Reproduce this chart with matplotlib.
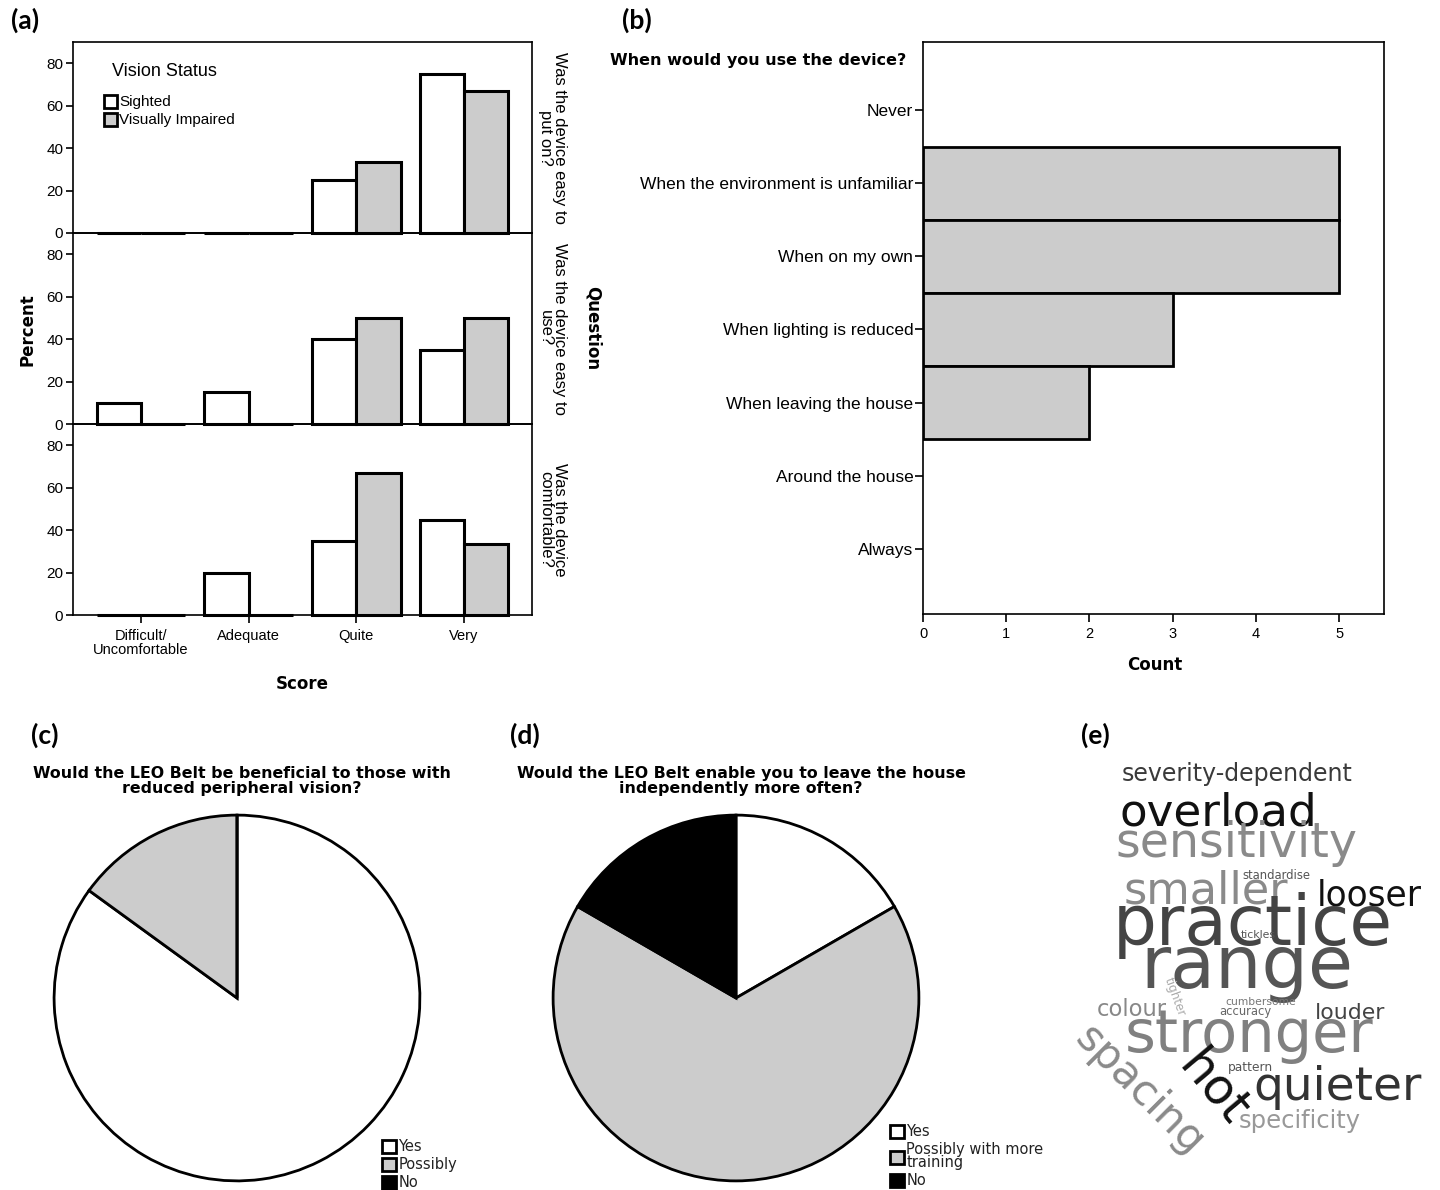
import matplotlib
matplotlib.use("Agg")
import matplotlib.pyplot as plt
from matplotlib.patches import Patch

W, H = 1440, 1190
plt.rcParams['font.family'] = ['Liberation Sans', 'DejaVu Sans']

# ---- datos ----
# (a) porcentaje por pregunta y grupo
score_cats = ['Difficult/\nUncomfortable', 'Adequate', 'Quite', 'Very']
questions = ['Was the device easy to\nput on?', 'Was the device easy to\nuse?', 'Was the device\ncomfortable?']
sighted = [[0, 0, 25, 75],
           [10, 15, 40, 35],
           [0, 20, 35, 45]]
impaired = [[0, 0, 33.3, 66.7],
            [0, 0, 50, 50],
            [0, 0, 66.7, 33.3]]

# (b) cuando usarias el dispositivo
use_cats = ['Never', 'When the environment is unfamiliar', 'When on my own',
            'When lighting is reduced', 'When leaving the house',
            'Around the house', 'Always']
use_counts = [0, 5, 5, 3, 2, 0, 0]

# (c) y (d) tortas
pie_c_labels = ['Yes', 'Possibly', 'No']
pie_c_vals = [85, 15, 0]
pie_d_labels = ['Yes', 'Possibly with more\ntraining', 'No']
pie_d_vals = [1, 4, 1]
pie_colors = ['white', '#cccccc', 'black']

# (e) nube de palabras
words = ['severity-dependent', 'overload', 'sensitivity', 'standardise', 'smaller',
         'looser', 'practice', 'tickles', 'range', 'tighter', 'colour', 'cumbersome',
         'accuracy', 'louder', 'stronger', 'spacing', 'hot', 'pattern', 'quieter',
         'specificity']
# layout de la nube: (x centro, y base/centro, ancho px, gris, rotacion)
word_layout = [(1237, 781, 231, '#3a3a3a', 0), (1218, 825, 197, '#111111', 0),
               (1236, 857, 242, '#8a8a8a', 0), (1276, 879, 68, '#555555', 0),
               (1206, 903, 165, '#8a8a8a', 0), (1369, 906, 105, '#111111', 0),
               (1253, 945, 280, '#444444', 0), (1258, 938, 35, '#555555', 0),
               (1247, 988, 213, '#555555', 0), (1175, 997, 40, '#aaaaaa', -70),
               (1132, 1016, 70, '#888888', 0), (1261, 1005, 70, '#777777', 0),
               (1245, 1015, 52, '#666666', 0), (1350, 1019, 70, '#444444', 0),
               (1249, 1052, 248, '#808080', 0), (1140, 1090, 165, '#8a8a8a', -45),
               (1213, 1088, 80, '#111111', -50), (1250, 1071, 45, '#555555', 0),
               (1338, 1100, 168, '#333333', 0), (1300, 1128, 122, '#999999', 0)]


def box(x0, y0, x1, y1):
    return [x0 / W, 1 - y1 / H, (x1 - x0) / W, (y1 - y0) / H]


fig = plt.figure(figsize=(W / 100, H / 100), dpi=100)
bold = dict(fontweight='bold', family='DejaVu Sans')

# ---- (a) ----
tops = [42, 233, 424]
bw = 0.41
for i in range(3):
    ax = fig.add_axes(box(73, tops[i], 532, tops[i] + 191))
    ax.patch.set_visible(False)
    xs = range(len(score_cats))
    ax.bar([x - bw / 2 for x in xs], sighted[i], bw, color='white', edgecolor='black',
           lw=2.2, clip_on=False, zorder=3)
    ax.bar([x + bw / 2 for x in xs], impaired[i], bw, color='#cccccc', edgecolor='black',
           lw=2.2, clip_on=False, zorder=3)
    ax.set_xlim(-0.63, 3.63)
    ax.set_ylim(0, 90)
    ax.set_yticks([0, 20, 40, 60, 80])
    ax.tick_params(axis='y', direction='out', length=5, width=1.2, labelsize=11, pad=2)
    for s in ax.spines.values():
        s.set_linewidth(1.2)
    if i < 2:
        ax.set_xticks([])
    else:
        ax.set_xticks(list(xs))
        ax.set_xticklabels(score_cats, fontsize=10.5, linespacing=1.0)
        ax.tick_params(axis='x', direction='out', length=6, width=1.2, pad=4)
    ax.text(1.013, 0.5, questions[i], transform=ax.transAxes, rotation=-90,
            ha='left', va='center', multialignment='center', fontsize=12, linespacing=0.9)
    if i == 0:
        handles = [Patch(facecolor='white', edgecolor='black', lw=2),
                   Patch(facecolor='#cccccc', edgecolor='black', lw=2)]
        ax.legend(handles, ['Sighted', 'Visually Impaired'],
                  loc='upper left', bbox_to_anchor=(96 / W, 1 - 87 / H),
                  bbox_transform=fig.transFigure, frameon=False, borderpad=0,
                  fontsize=11, handlelength=0.85, handleheight=0.95,
                  handletextpad=0.15, labelspacing=0.2)

fig.text(112 / W, 1 - 72 / H, 'Vision Status', ha='left', va='center', fontsize=13)
fig.text(28 / W, 1 - 330 / H, 'Percent', rotation=90, ha='center', va='center', fontsize=12, **bold)
fig.text(593 / W, 1 - 328 / H, 'Question', rotation=-90, ha='center', va='center', fontsize=12, **bold)
fig.text(302 / W, 1 - 684 / H, 'Score', ha='center', va='center', fontsize=12, **bold)

# ---- (b) ----
axb = fig.add_axes(box(923, 42, 1384, 614))
axb.barh(range(len(use_cats)), use_counts, height=1.0, color='#cccccc', edgecolor='black',
         linewidth=[2 if c > 0 else 0 for c in use_counts])
axb.set_ylim(6.89, -0.93)
axb.set_xlim(0, 5.54)
axb.set_yticks(range(len(use_cats)))
axb.set_yticklabels(use_cats, fontsize=12.5)
axb.set_xticks(range(6))
axb.tick_params(axis='y', direction='out', length=6, width=1.2, pad=1)
axb.tick_params(axis='x', direction='out', length=6, width=1.2, labelsize=10.5)
for s in axb.spines.values():
    s.set_linewidth(1.2)
fig.text(610 / W, 1 - 60 / H, 'When would you use the device?', ha='left', va='center', fontsize=11.5, **bold)
fig.text(1155 / W, 1 - 665 / H, 'Count', ha='center', va='center', fontsize=12, **bold)

# ---- (c) y (d) ----
r = 183
for cx, vals, labs, title, lx, ly in [
        (237, pie_c_vals, pie_c_labels,
         'Would the LEO Belt be beneficial to those with\nreduced peripheral vision?', 375, 1132),
        (736, pie_d_vals, pie_d_labels,
         'Would the LEO Belt enable you to leave the house\nindependently more often?', 883, 1117)]:
    axp = fig.add_axes(box(cx - r - 3, 998 - r - 3, cx + r + 3, 998 + r + 3))
    wedges, _ = axp.pie(vals, colors=pie_colors, startangle=90, counterclock=False,
                        wedgeprops=dict(edgecolor='black', linewidth=2))
    axp.set_xlim(-1.017, 1.017)
    axp.set_ylim(-1.017, 1.017)
    axp.set_aspect('equal')
    axp.axis('off')
    fig.text((cx + 5) / W, 1 - 781 / H, title, ha='center', va='center', fontsize=11.4,
             linespacing=0.95, **bold)
    leg = axp.legend(wedges, labs, loc='upper left', bbox_to_anchor=(lx / W, 1 - ly / H),
                     bbox_transform=fig.transFigure, frameon=False,
                     handlelength=0.95, handleheight=1.0, handletextpad=0.15, labelspacing=0.2,
                     borderpad=0, prop=dict(family='DejaVu Sans', size=10.5))
    for t in leg.get_texts():
        t.set_color('#222222')
        t.set_linespacing(0.85)

# ---- etiquetas de panel ----
for lab, x, y in [('(a)', 25, 20), ('(b)', 637, 20), ('(c)', 45, 735), ('(d)', 525, 735), ('(e)', 1095, 735)]:
    fig.text(x / W, 1 - y / H, lab, ha='center', va='center', fontsize=19, fontweight='bold', family='Lato')

# ---- (e) nube ----
fig.canvas.draw()
rend = fig.canvas.get_renderer()
for w, (x, y, width, col, rot) in zip(words, word_layout):
    va = 'baseline' if rot == 0 else 'center'
    t = fig.text(x / W, 1 - y / H, w, ha='center', va=va, fontsize=20, color=col, family='DejaVu Sans')
    wpx = t.get_window_extent(rend).width
    t.set_fontsize(20 * width / wpx)
    t.set_rotation(rot)

fig.savefig('out.png', dpi=100)
